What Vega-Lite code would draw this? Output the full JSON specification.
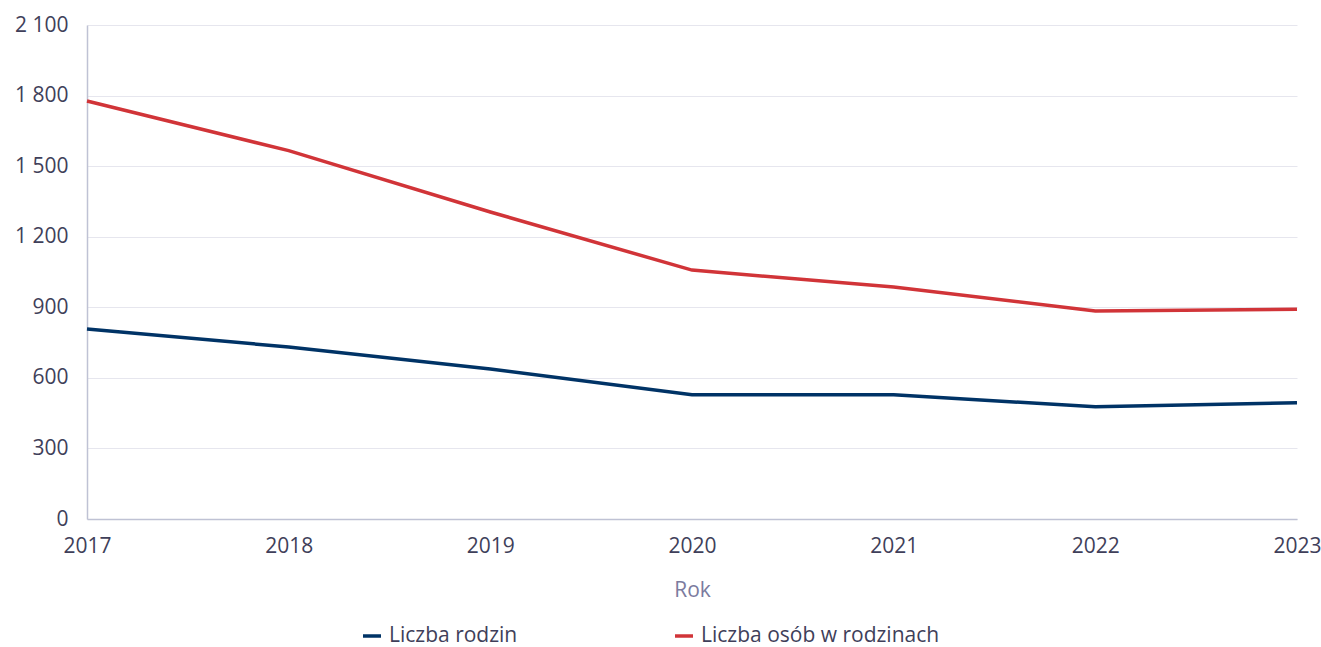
{
  "$schema": "https://vega.github.io/schema/vega-lite/v6.json",
  "width": 1210,
  "height": 494,
  "autosize": {"type": "none"},
  "padding": {"left": 87, "top": 25, "right": 24, "bottom": 128},
  "background": "#ffffff",
  "config": {
    "view": {"stroke": null},
    "font": "Open Sans",
    "axis": {"labelFont": "Open Sans", "titleFont": "Open Sans"},
    "legend": {"labelFont": "Open Sans"}
  },
  "data": {
    "values": [
      {"rok": 2017, "seria": "Liczba rodzin", "wartosc": 808},
      {"rok": 2018, "seria": "Liczba rodzin", "wartosc": 731},
      {"rok": 2019, "seria": "Liczba rodzin", "wartosc": 638},
      {"rok": 2020, "seria": "Liczba rodzin", "wartosc": 528},
      {"rok": 2021, "seria": "Liczba rodzin", "wartosc": 528},
      {"rok": 2022, "seria": "Liczba rodzin", "wartosc": 477},
      {"rok": 2023, "seria": "Liczba rodzin", "wartosc": 494},
      {"rok": 2017, "seria": "Liczba osób w rodzinach", "wartosc": 1777},
      {"rok": 2018, "seria": "Liczba osób w rodzinach", "wartosc": 1566},
      {"rok": 2019, "seria": "Liczba osób w rodzinach", "wartosc": 1305},
      {"rok": 2020, "seria": "Liczba osób w rodzinach", "wartosc": 1058},
      {"rok": 2021, "seria": "Liczba osób w rodzinach", "wartosc": 986},
      {"rok": 2022, "seria": "Liczba osób w rodzinach", "wartosc": 884},
      {"rok": 2023, "seria": "Liczba osób w rodzinach", "wartosc": 892}
    ]
  },
  "mark": {"type": "line", "strokeWidth": 3.5, "interpolate": "linear"},
  "encoding": {
    "x": {
      "field": "rok",
      "type": "quantitative",
      "scale": {"domain": [2017, 2023], "nice": false, "zero": false},
      "axis": {
        "title": "Rok",
        "values": [2017, 2018, 2019, 2020, 2021, 2022, 2023],
        "format": "d",
        "grid": false,
        "ticks": false,
        "domainColor": "#bfc2d4",
        "domainWidth": 1.5,
        "labelColor": "#3f3f5a",
        "labelFontSize": 21,
        "labelPadding": 16,
        "labelFlush": false,
        "labelOverlap": false,
        "titleColor": "#7b7b9e",
        "titleFontSize": 21,
        "titleFontWeight": "normal",
        "titlePadding": 23
      }
    },
    "y": {
      "field": "wartosc",
      "type": "quantitative",
      "scale": {"domain": [0, 2100], "nice": false},
      "axis": {
        "title": null,
        "values": [0, 300, 600, 900, 1200, 1500, 1800, 2100],
        "labelExpr": "replace(format(datum.value, ','), ',', ' ')",
        "grid": true,
        "gridColor": "#e6e6ee",
        "gridWidth": 1,
        "ticks": false,
        "domainColor": "#bfc2d4",
        "domainWidth": 1.5,
        "labelColor": "#3f3f5a",
        "labelFontSize": 21,
        "labelPadding": 19
      }
    },
    "color": {
      "field": "seria",
      "type": "nominal",
      "sort": ["Liczba rodzin", "Liczba osób w rodzinach"],
      "scale": {
        "domain": ["Liczba rodzin", "Liczba osób w rodzinach"],
        "range": ["#003366", "#d13438"]
      },
      "legend": {
        "title": null,
        "orient": "none",
        "legendX": 274,
        "legendY": 600,
        "direction": "horizontal",
        "symbolType": "stroke",
        "symbolSize": 324,
        "symbolStrokeWidth": 3.5,
        "labelFontSize": 21,
        "labelColor": "#3f3f5a",
        "labelOffset": 6,
        "columnPadding": 150,
        "labelLimit": 400
      }
    }
  }
}
